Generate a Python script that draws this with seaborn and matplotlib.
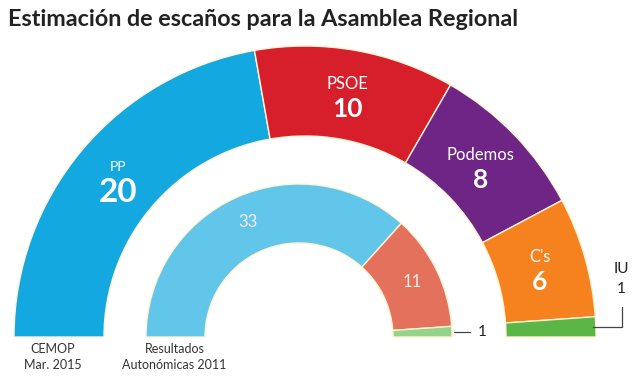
import numpy as np
import matplotlib
matplotlib.use("Agg")
import matplotlib.pyplot as plt
import seaborn as sns

# Outer ring: CEMOP poll, Mar. 2015
poll_parties = ["PP", "PSOE", "Podemos", "C's", "IU"]
poll_seats = [20, 10, 8, 6, 1]
poll_colors = ["#13A9E0", "#D71F2B", "#6E2586", "#F5821F", "#5CB647"]

# Inner ring: regional election results 2011
result_seats = [33, 11, 1]
result_colors = ["#62C5EA", "#E3715C", "#95D28A"]

title = "Estimación de escaños para la Asamblea Regional"
poll_caption = "CEMOP\nMar. 2015"
result_caption = "Resultados\nAutonómicas 2011"

sns.set_theme(style="white")
plt.rcParams["font.family"] = ["Lato", "DejaVu Sans"]

W, H = 633, 384
fig = plt.figure(figsize=(W / 100, H / 100), dpi=100)
ax = fig.add_axes([0, 0, 1, 1])


def half_donut(seats, colors, center, radius, width):
    # extra invisible wedge fills the lower half
    total = sum(seats)
    wedges, _ = ax.pie(
        seats + [total], colors=colors + ["white"], startangle=180,
        counterclock=False, radius=radius, center=center, frame=True,
        wedgeprops=dict(width=width, edgecolor="#FFF4D2", linewidth=1.0),
    )
    wedges[-1].set_visible(False)
    return wedges[:-1]


def polar(center, r, deg):
    a = np.deg2rad(deg)
    return center[0] + r * np.cos(a), center[1] + r * np.sin(a)


# ── outer ring
oc, oR, ow = (305, H - 337), 291, 90
outer = half_donut(poll_seats, poll_colors, oc, oR, ow)

# ── inner ring
ic, iR, iw = (299, H - 337), 153, 59
inner = half_donut(result_seats, result_colors, ic, iR, iw)

# labels inside outer wedges
for w, name, n in zip(outer, poll_parties, poll_seats):
    if n < 2:
        continue
    mid = (w.theta1 + w.theta2) / 2
    x, y = polar(oc, oR - ow / 2 - 2, mid)
    big = 24 if n >= 20 else 19
    small = 10 if n >= 20 else 12
    ax.text(x, y + 13, name, ha="center", va="center", color="white",
            fontsize=small)
    ax.text(x, y - 12, str(n), ha="center", va="center", color="white",
            fontsize=big, fontweight="bold")

# IU: label outside with leader line
w = outer[-1]
mid = (w.theta1 + w.theta2) / 2
x0, y0 = polar(oc, oR - 3, mid)
ax.plot([x0, 622, 622], [y0, y0, H - 307], color="#444444", lw=0.9)
ax.text(621, H - 269, poll_parties[-1], ha="center", va="center",
        color="#222222", fontsize=11)
ax.text(621, H - 289, str(poll_seats[-1]), ha="center", va="center",
        color="#222222", fontsize=11)

# labels inside inner wedges
for w, n in zip(inner, result_seats):
    if n < 2:
        continue
    mid = (w.theta1 + w.theta2) / 2
    x, y = polar(ic, iR - iw / 2 + 2, mid)
    ax.text(x, y, str(n), ha="center", va="center", color="#F6EDE6",
            fontsize=12)

w = inner[-1]
mid = (w.theta1 + w.theta2) / 2
x0, y0 = polar(ic, iR + 2, mid)
ax.plot([x0, x0 + 16], [y0, y0], color="#444444", lw=0.9)
ax.text(x0 + 28, y0, str(result_seats[-1]), ha="center", va="center",
        color="#222222", fontsize=11)

# captions under each ring
ax.text(oc[0] - oR + ow / 2 - 6, H - 343, poll_caption, ha="center", va="top",
        color="#333333", fontsize=9, linespacing=1.4)
ax.text(ic[0] - iR + iw / 2 - 1, H - 343, result_caption, ha="center", va="top",
        color="#333333", fontsize=9, linespacing=1.4)

ax.text(8, H - 19, title, ha="left", va="center", color="#222222",
        fontsize=16.8, fontweight="bold")

ax.set_xlim(0, W)
ax.set_ylim(0, H)
ax.set_aspect("equal")
ax.axis("off")

fig.savefig("out.png", dpi=100)
